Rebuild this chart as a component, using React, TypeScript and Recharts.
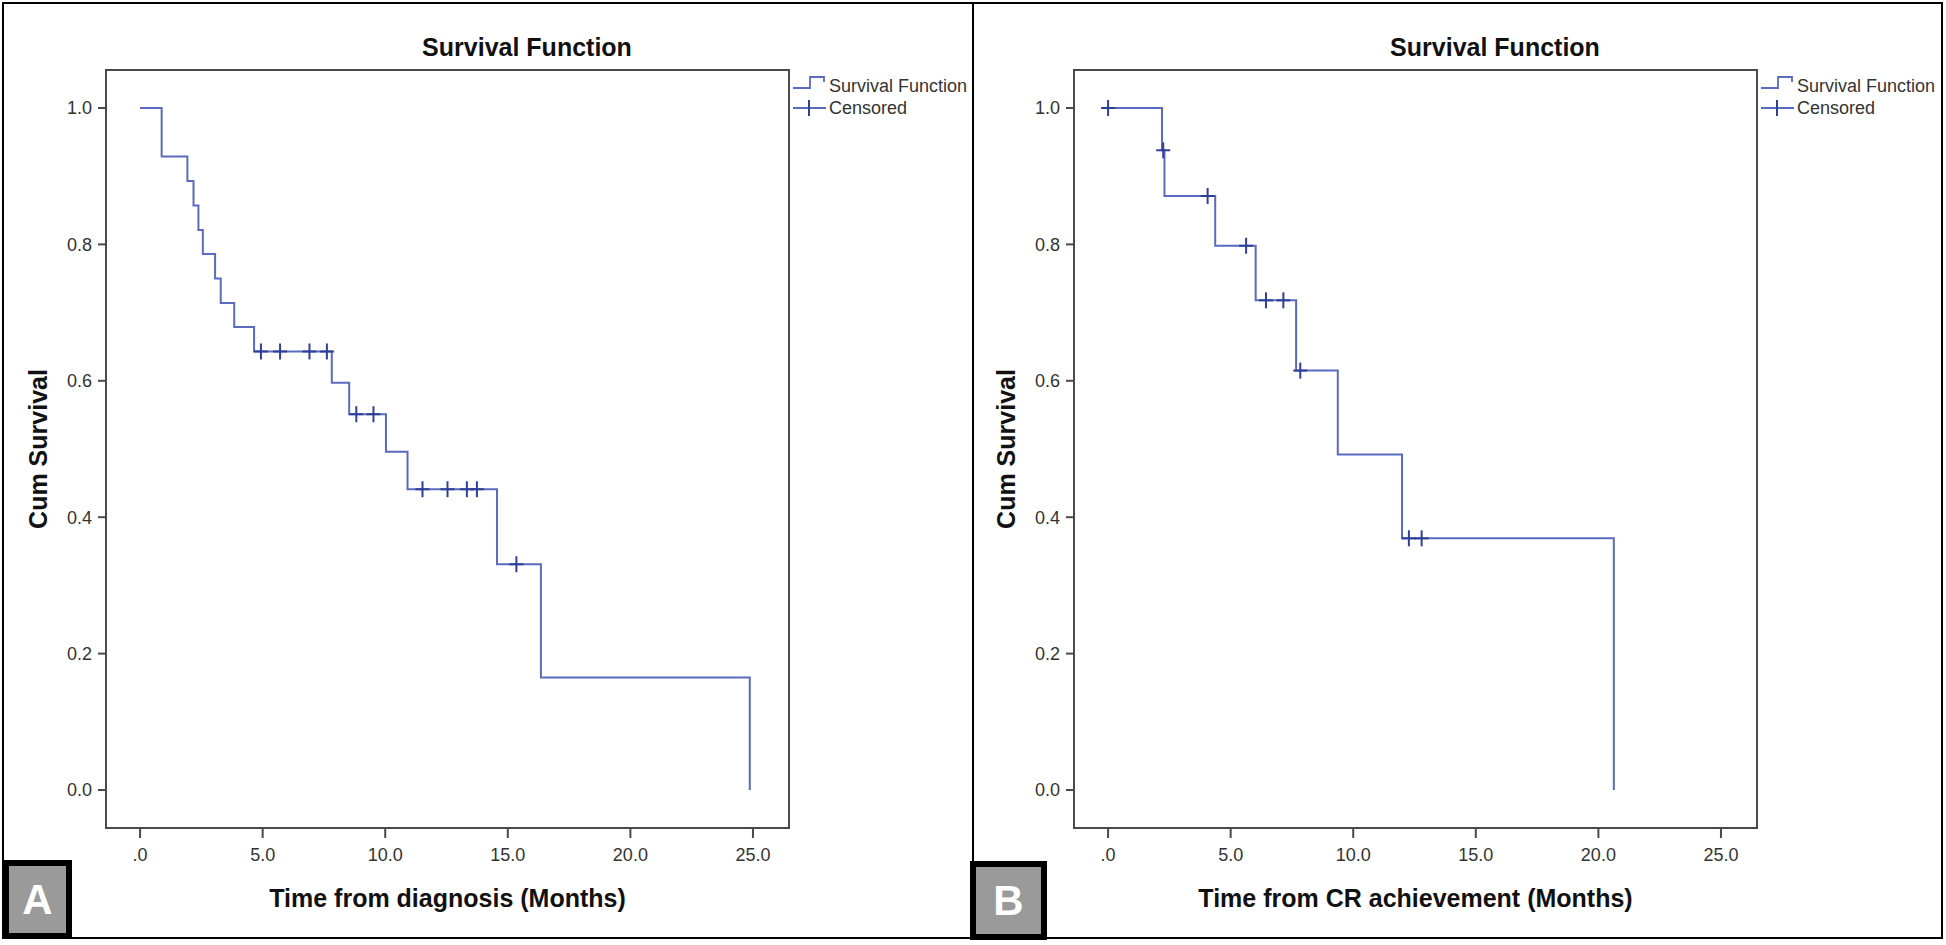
import { ComposedChart, Line, Scatter, XAxis, YAxis, ReferenceArea, Legend } from 'recharts'

// panel A: time from diagnosis
const timesA = [0, 0.88, 1.93, 2.18, 2.38, 2.56, 3.06, 3.29, 3.84, 4.65, 7.82, 8.53, 10.03, 10.91, 14.56, 16.35, 24.87]
const survA = [1.0, 0.929, 0.893, 0.857, 0.821, 0.786, 0.75, 0.714, 0.679, 0.643, 0.597, 0.551, 0.496, 0.441, 0.331, 0.165, 0]
const censTimesA = [4.93, 5.71, 6.91, 7.62, 8.82, 9.52, 11.52, 12.54, 13.33, 13.74, 15.35]
const censSurvA = [0.643, 0.643, 0.643, 0.643, 0.551, 0.551, 0.441, 0.441, 0.441, 0.441, 0.331]

// panel B: time from CR achievement
const timesB = [0, 2.2, 2.3, 4.37, 6.02, 7.67, 9.37, 11.99, 20.63]
const survB = [1.0, 0.938, 0.871, 0.798, 0.718, 0.615, 0.492, 0.369, 0]
const censTimesB = [0, 2.25, 4.06, 5.63, 6.44, 7.15, 7.84, 12.27, 12.79]
const censSurvB = [1.0, 0.938, 0.871, 0.798, 0.718, 0.718, 0.615, 0.369, 0.369]

const xTicks = [0, 5, 10, 15, 20, 25]
const yTicks = [0, 0.2, 0.4, 0.6, 0.8, 1.0]
const xDomain: [number, number] = [-1.39, 26.47]
const yDomain: [number, number] = [-0.0557, 1.0557]

const LINE = '#5a6bbf'
const MARK = '#2f3f98'
const FRAME = '#4a4a4a'
const FONT = '"Liberation Sans", Arial, sans-serif'

const toPoints = (ts: number[], ss: number[]) => ts.map((t, i) => ({ t, s: ss[i] }))

function Cross(props: any) {
  const { cx, cy } = props
  if (cx == null || cy == null) return <g />
  return (
    <g stroke={MARK} strokeWidth={2}>
      <line x1={cx - 7} y1={cy} x2={cx + 7} y2={cy} />
      <line x1={cx} y1={cy - 8} x2={cx} y2={cy + 8} />
    </g>
  )
}

function KmLegend() {
  const row = { display: 'flex', alignItems: 'center', height: 22 }
  const txt = { fontFamily: FONT, fontSize: 18, color: '#333', marginLeft: 2, whiteSpace: 'nowrap' as const }
  return (
    <div>
      <div style={row}>
        <svg width={34} height={22}>
          <path d="M0 13 H17 V2 H31 V7" fill="none" stroke={LINE} strokeWidth={1.8} />
        </svg>
        <span style={txt}>Survival Function</span>
      </div>
      <div style={row}>
        <svg width={34} height={22}>
          <line x1={0} y1={11} x2={33} y2={11} stroke={LINE} strokeWidth={1.8} />
          <line x1={16} y1={3} x2={16} y2={19} stroke={MARK} strokeWidth={2} />
        </svg>
        <span style={txt}>Censored</span>
      </div>
    </div>
  )
}

function SurvivalPanel({
  left,
  curve,
  censored,
  xLabel,
}: {
  left: number
  curve: { t: number; s: number }[]
  censored: { t: number; s: number }[]
  xLabel: string
}) {
  const tick = { fill: '#333', fontSize: 18, fontFamily: FONT }
  return (
    <div style={{ position: 'absolute', left, top: 0 }}>
      <div
        style={{
          position: 'absolute',
          left: 327,
          top: 32,
          width: 400,
          textAlign: 'center',
          fontFamily: FONT,
          fontWeight: 'bold',
          fontSize: 25,
          lineHeight: '30px',
          color: '#111',
        }}
      >
        Survival Function
      </div>
      <ComposedChart width={970} height={945} margin={{ top: 70, right: 181, left: 26, bottom: 32 }}>
        <XAxis
          dataKey="t"
          type="number"
          domain={xDomain}
          ticks={xTicks}
          interval={0}
          allowDataOverflow
          tickFormatter={(v: number) => (v === 0 ? '.0' : v.toFixed(1))}
          tick={tick}
          tickSize={10}
          tickMargin={10}
          height={85}
          axisLine={{ stroke: FRAME, strokeWidth: 2 }}
          tickLine={{ stroke: FRAME, strokeWidth: 2 }}
          label={{
            value: xLabel,
            position: 'insideBottom',
            offset: 6,
            fill: '#111',
            fontSize: 25,
            fontWeight: 'bold',
            fontFamily: FONT,
          }}
        />
        <YAxis
          dataKey="s"
          type="number"
          domain={yDomain}
          ticks={yTicks}
          interval={0}
          allowDataOverflow
          tickFormatter={(v: number) => v.toFixed(1)}
          tick={tick}
          tickSize={8}
          tickMargin={6}
          width={80}
          axisLine={{ stroke: FRAME, strokeWidth: 2 }}
          tickLine={{ stroke: FRAME, strokeWidth: 2 }}
          label={{
            value: 'Cum Survival',
            angle: -90,
            position: 'insideLeft',
            offset: 12,
            fill: '#111',
            fontSize: 25,
            fontWeight: 'bold',
            fontFamily: FONT,
            style: { textAnchor: 'middle' },
          }}
        />
        <ReferenceArea
          x1={xDomain[0]}
          x2={xDomain[1]}
          y1={yDomain[0]}
          y2={yDomain[1]}
          fill="none"
          stroke={FRAME}
          strokeWidth={2}
          ifOverflow="visible"
        />
        <Line
          data={curve}
          dataKey="s"
          type="stepAfter"
          stroke={LINE}
          strokeWidth={2}
          dot={false}
          activeDot={false}
          isAnimationActive={false}
        />
        <Scatter data={censored} dataKey="s" shape={Cross} isAnimationActive={false} />
        <Legend
          layout="horizontal"
          verticalAlign="middle"
          align="center"
          wrapperStyle={{ left: 793, top: 75, width: 180, height: 46 }}
          content={() => <KmLegend />}
        />
      </ComposedChart>
    </div>
  )
}

function PanelTag({ left, top, width, letter }: { left: number; top: number; width: number; letter: string }) {
  return (
    <div
      style={{
        position: 'absolute',
        left,
        top,
        width,
        height: 79,
        boxSizing: 'border-box',
        border: '6px solid #000',
        background: '#9a9a9a',
        color: '#fff',
        fontFamily: FONT,
        fontWeight: 'bold',
        fontSize: 42,
        display: 'flex',
        alignItems: 'center',
        justifyContent: 'center',
      }}
    >
      {letter}
    </div>
  )
}

export default function App() {
  return (
    <div style={{ position: 'absolute', left: 0, top: 0, width: 1946, height: 945, background: '#fff', overflow: 'hidden' }}>
      <SurvivalPanel left={0} curve={toPoints(timesA, survA)} censored={toPoints(censTimesA, censSurvA)} xLabel="Time from diagnosis (Months)" />
      <SurvivalPanel left={968} curve={toPoints(timesB, survB)} censored={toPoints(censTimesB, censSurvB)} xLabel="Time from CR achievement (Months)" />
      <div style={{ position: 'absolute', left: 2, top: 2, width: 1941, height: 937, boxSizing: 'border-box', border: '2px solid #000' }} />
      <div style={{ position: 'absolute', left: 972, top: 2, width: 2, height: 937, background: '#000' }} />
      <PanelTag left={3} top={860} width={69} letter="A" />
      <PanelTag left={970} top={861} width={77} letter="B" />
    </div>
  )
}
